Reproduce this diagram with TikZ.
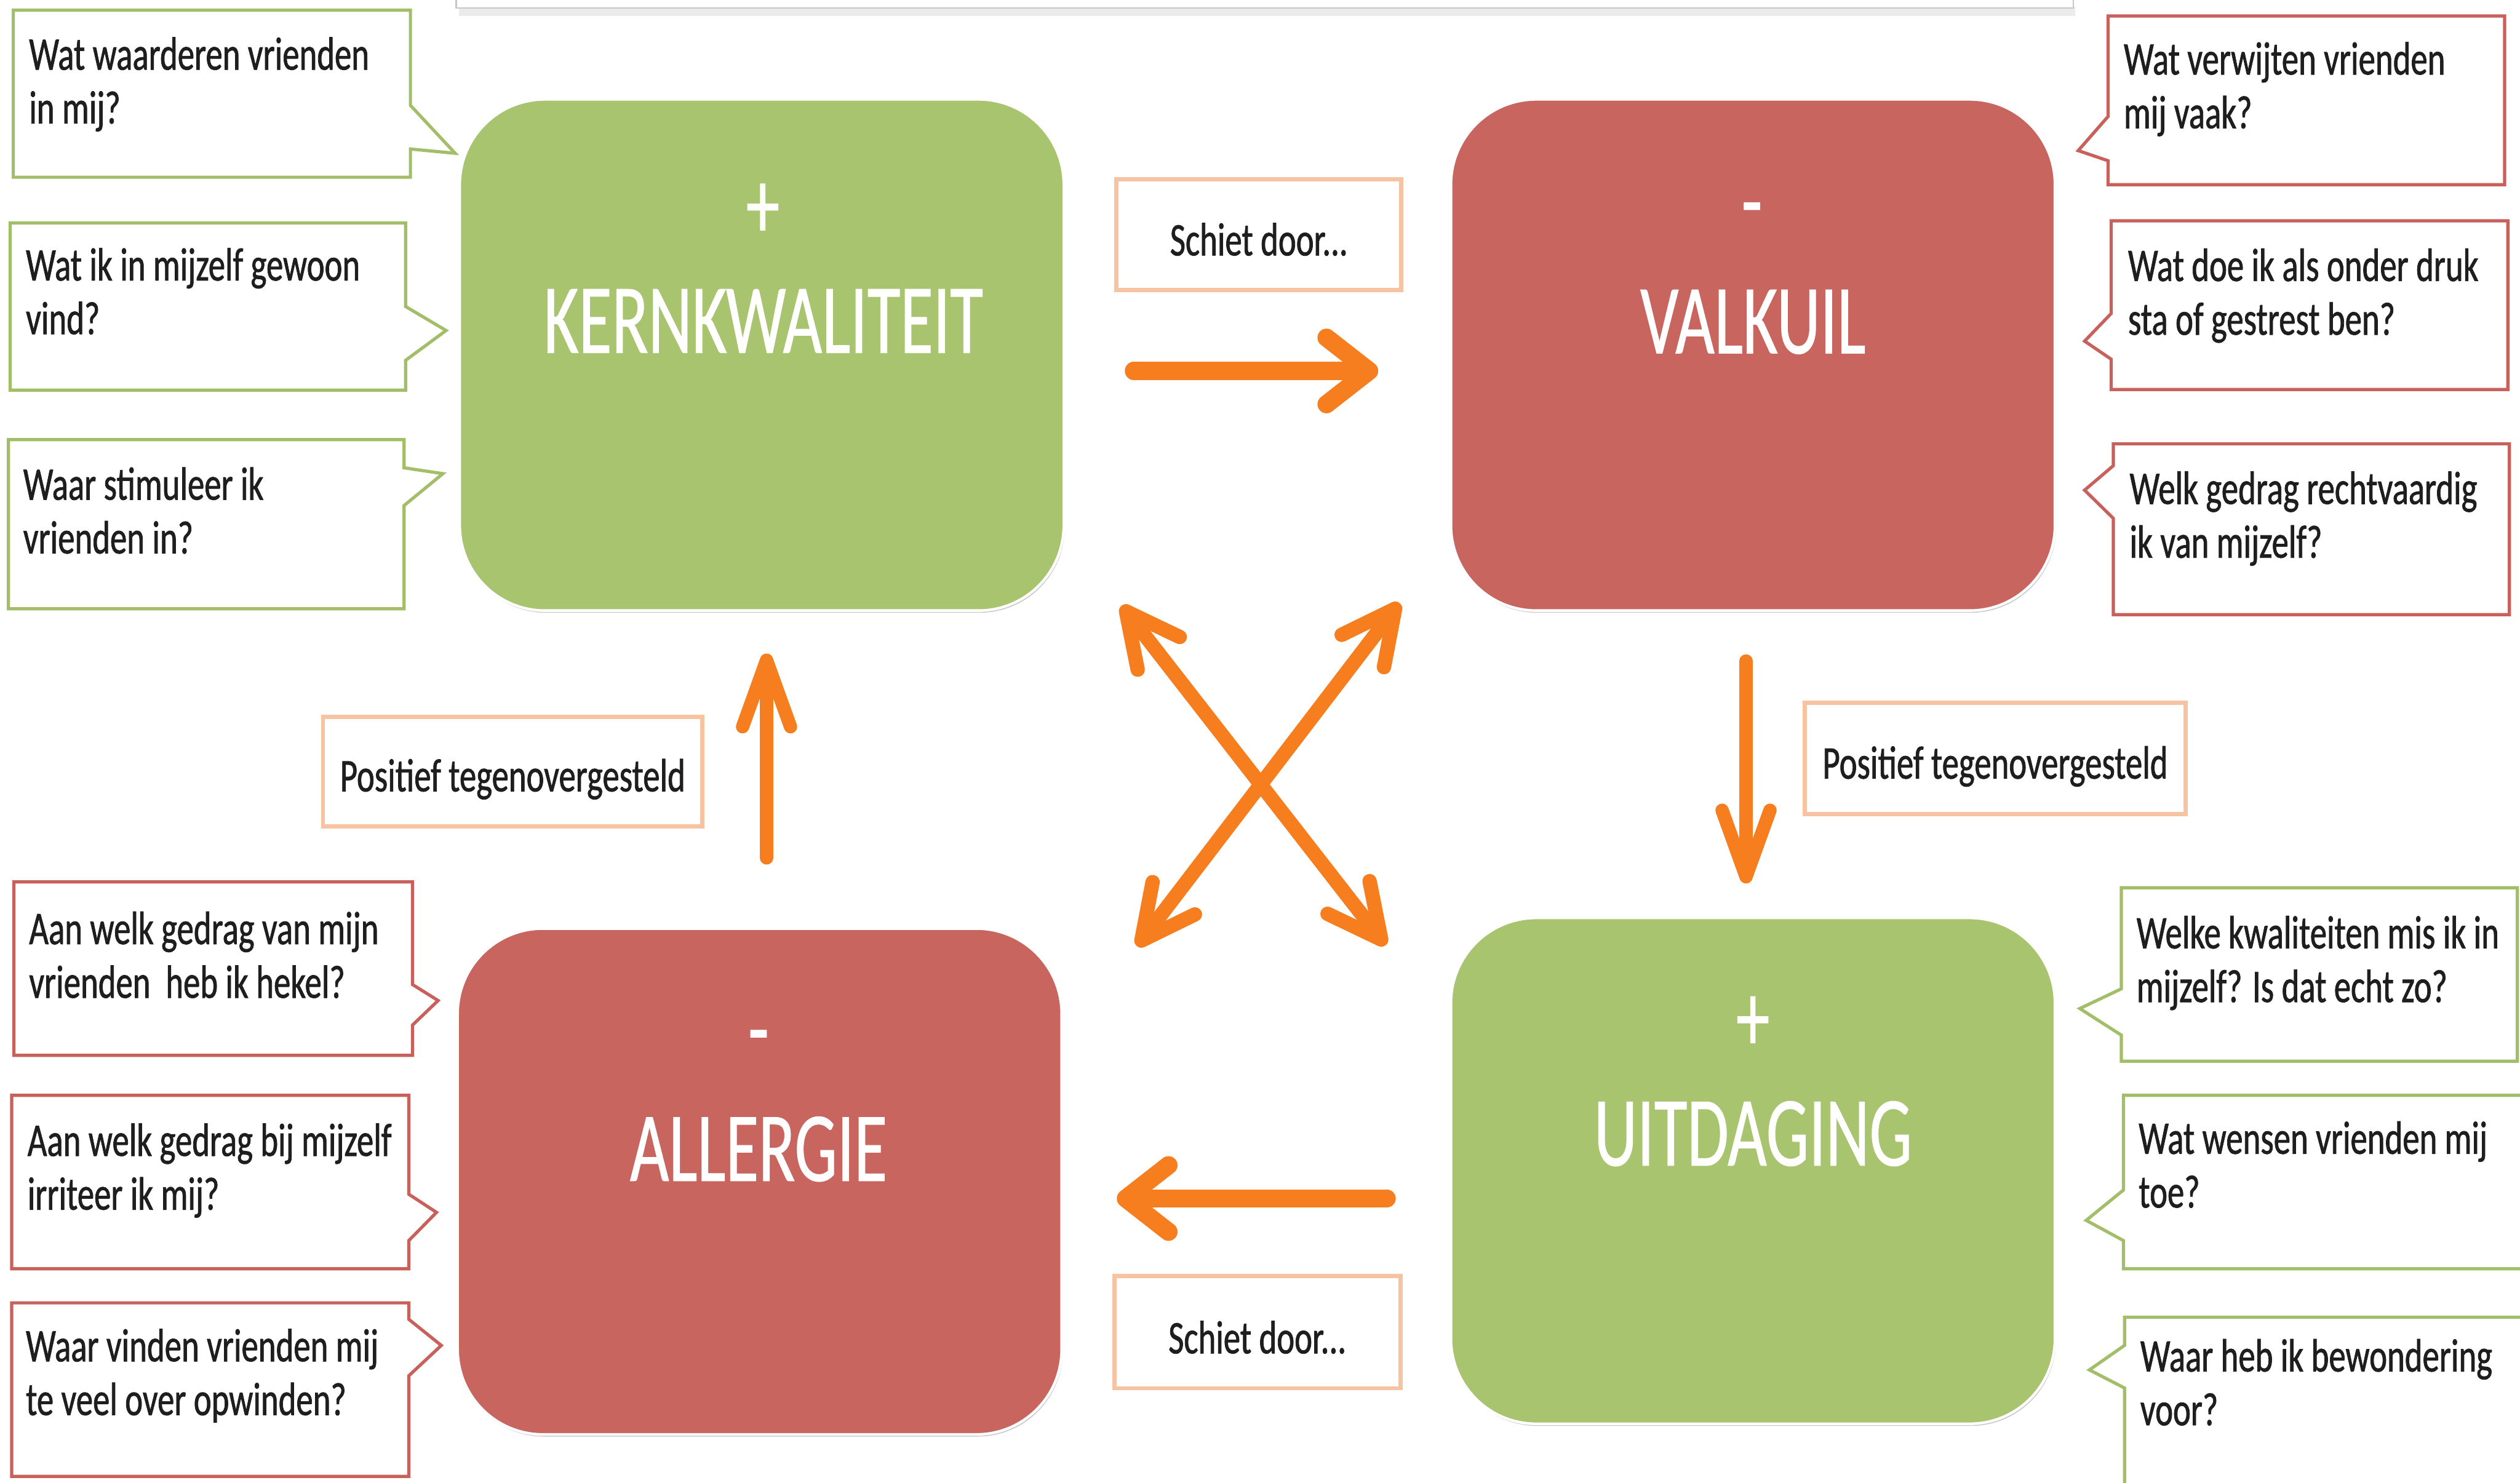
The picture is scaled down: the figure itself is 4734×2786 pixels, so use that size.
\documentclass[tikz,border=0pt]{standalone}
\usepackage{fontspec}
\setmainfont{Carlito}[FakeStretch=0.72,FakeBold=1]
\newfontfamily\titlefont{Carlito}[FakeStretch=0.68,FakeBold=0.6]
\usetikzlibrary{arrows.meta,shadows}
\definecolor{boxgreen}{RGB}{169,196,111}
\definecolor{boxred}{RGB}{201,101,95}
\definecolor{cgreen}{RGB}{163,190,104}
\definecolor{cred}{RGB}{200,96,92}
\definecolor{orangeC}{RGB}{246,126,31}
\definecolor{peach}{RGB}{246,196,163}
\definecolor{textc}{RGB}{30,30,30}
\begin{document}
\begin{tikzpicture}[x=0.01cm,y=-0.01cm,
  mainbox/.style={rectangle, rounded corners=1.6cm, minimum width=11.34cm, minimum height=9.6cm,
    draw=white, line width=0.05cm, inner sep=0pt,
    drop shadow={shadow xshift=0.02cm, shadow yshift=-0.04cm, opacity=0.22, fill=black}},
  sign/.style={anchor=base, text=white, inner sep=0pt, font=\titlefont\fontsize{53}{60}\selectfont},
  callgreen/.style={draw=cgreen, line width=0.06cm, fill=white},
  callred/.style={draw=cred, line width=0.06cm, fill=white},
  qtext/.style={anchor=base west, inner sep=0pt, text=textc, font=\fontsize{25}{28.7}\selectfont},
  lbox/.style={rectangle, draw=peach, line width=0.08cm, fill=white, inner sep=0pt},
  ltext/.style={anchor=base, inner sep=0pt, text=textc, font=\fontsize{25}{30}\selectfont},
  harrow/.style={draw=orangeC, line width=0.34cm, line cap=round,
    -{Straight Barb[round,length=0.8cm,width=1.25cm]}},
  varrow/.style={draw=orangeC, line width=0.25cm, line cap=round,
    -{Straight Barb[round,length=1.25cm,width=0.9cm]}},
  darrow/.style={draw=orangeC, line width=0.27cm, line cap=round,
    {Straight Barb[round,length=1cm,width=1cm]}-{Straight Barb[round,length=1cm,width=1cm]}}
]
\useasboundingbox (0,0) rectangle (4734,2786);
\fill[white] (0,0) rectangle (4734,2786);

% top box (partly visible)
\fill[black!8] (862,12) rectangle (3898,30);
\draw[draw=black!22, line width=0.03cm, fill=white] (857,-60) rectangle (3895,15);

% main boxes
\node[mainbox, fill=boxgreen] (kern) at (1431,667) {};
\node[mainbox, fill=boxred] (valk) at (3293,667) {};
\node[mainbox, fill=boxred, minimum height=9.5cm] (allg) at (1427,2220) {};
\node[mainbox, fill=boxgreen, minimum height=9.5cm] (uitd) at (3293,2200) {};

\node[sign] (kernsign) at (1433,448) {+};
\node[sign] (kerntitle) at (1434,663) {KERNKWALITEIT};
\node[sign] (valksign) at (3291,440) {-};
\node[sign] (valktitle) at (3293,664) {VALKUIL};
\node[sign] (allgsign) at (1425,1995) {-};
\node[sign] (allgtitle) at (1425,2219) {ALLERGIE};
\node[sign] (uitdsign) at (3293,1975) {+};
\node[sign] (uitdtitle) at (3293,2190) {UITDAGING};

% callouts left top (green)
\draw[callgreen] (25,19) -- (771,19) -- (771,198) -- (855,288) -- (771,280) -- (771,333) -- (25,333) -- cycle;
\draw[callgreen] (19,419) -- (762,419) -- (762,576) -- (838,621) -- (762,677) -- (762,733) -- (19,733) -- cycle;
\draw[callgreen] (16,826) -- (759,826) -- (759,879) -- (832,890) -- (759,950) -- (759,1144) -- (16,1144) -- cycle;
\node[qtext] (q1) at (54,131) {\parbox[t]{8cm}{\raggedright Wat waarderen vrienden\\in mij?}};
\node[qtext] (q2) at (48,527) {\parbox[t]{8cm}{\raggedright Wat ik in mijzelf gewoon\\vind?}};
\node[qtext] (q3) at (43,939) {\parbox[t]{8cm}{\raggedright Waar stimuleer ik\\vrienden in?}};

% callouts right top (red)
\draw[callred] (3960,30) -- (4705,30) -- (4705,347) -- (3960,347) -- (3960,302) -- (3904,283) -- (3960,219) -- cycle;
\draw[callred] (3966,415) -- (4711,415) -- (4711,732) -- (3966,732) -- (3966,675) -- (3916,641) -- (3966,589) -- cycle;
\draw[callred] (3970,834) -- (4714,834) -- (4714,1155) -- (3970,1155) -- (3970,974) -- (3916,921) -- (3970,875) -- cycle;
\node[qtext] (q4) at (3989,140) {\parbox[t]{8cm}{\raggedright Wat verwijten vrienden\\mij vaak?}};
\node[qtext] (q5) at (3997,528) {\parbox[t]{8cm}{\raggedright Wat doe ik als onder druk\\sta of gestrest ben?}};
\node[qtext] (q6) at (4000,947) {\parbox[t]{8cm}{\raggedright Welk gedrag rechtvaardig\\ik van mijzelf?}};

% callouts left bottom (red)
\draw[callred] (26,1657) -- (775,1657) -- (775,1850) -- (823,1880) -- (775,1926) -- (775,1983) -- (26,1983) -- cycle;
\draw[callred] (22,2058) -- (768,2058) -- (768,2244) -- (820,2278) -- (768,2331) -- (768,2384) -- (22,2384) -- cycle;
\draw[callred] (22,2448) -- (768,2448) -- (768,2479) -- (829,2528) -- (768,2585) -- (768,2774) -- (22,2774) -- cycle;
\node[qtext] (q7) at (54,1774) {\parbox[t]{8cm}{\raggedright Aan welk gedrag van mijn\\vrienden\ \ heb ik hekel?}};
\node[qtext] (q8) at (51,2172) {\parbox[t]{8cm}{\raggedright Aan welk gedrag bij mijzelf\\irriteer ik mij?}};
\node[qtext] (q9) at (48,2558) {\parbox[t]{8cm}{\raggedright Waar vinden vrienden mij\\te veel over opwinden?}};

% callouts right bottom (green)
\draw[callgreen] (3985,1668) -- (4729,1668) -- (4729,1994) -- (3985,1994) -- (3985,1945) -- (3907,1895) -- (3985,1858) -- cycle;
\draw[callgreen] (3989,2058) -- (4760,2058) -- (4760,2384) -- (3989,2384) -- (3989,2331) -- (3919,2293) -- (3989,2236) -- cycle;
\draw[callgreen] (3991,2475) -- (4760,2475) -- (4760,2820) -- (3991,2820) -- (3991,2608) -- (3925,2574) -- (3991,2528) -- cycle;
\node[qtext] (q10) at (4013,1782) {\parbox[t]{8cm}{\raggedright Welke kwaliteiten mis ik in\\mijzelf? Is dat echt zo?}};
\node[qtext] (q11) at (4017,2168) {\parbox[t]{8cm}{\raggedright Wat wensen vrienden mij\\toe?}};
\node[qtext] (q12) at (4020,2577) {\parbox[t]{8cm}{\raggedright Waar heb ik bewondering\\voor?}};

% label boxes
\node[lbox, minimum width=5.35cm, minimum height=2.07cm] (sd1) at (2365,441) {};
\node[ltext] (sd1t) at (2365,480) {Schiet door...};
\node[lbox, minimum width=5.37cm, minimum height=2.11cm] (sd2) at (2362,2503) {};
\node[ltext] (sd2t) at (2362,2543) {Schiet door...};
\node[lbox, minimum width=7.12cm, minimum height=2.06cm] (pt1) at (963,1450) {};
\node[ltext] (pt1t) at (963,1487) {Positief tegenovergesteld};
\node[lbox, minimum width=7.15cm, minimum height=2.1cm] (pt2) at (3748,1425) {};
\node[ltext] (pt2t) at (3748,1463) {Positief tegenovergesteld};

% arrows
\coordinate (h1s) at (2130,697);
\coordinate (h1e) at (2589,697);
\coordinate (h2s) at (2605,2252);
\coordinate (h2e) at (2098,2252);
\coordinate (v1s) at (1440,1612);
\coordinate (v1e) at (1440,1228);
\coordinate (v2s) at (3280,1242);
\coordinate (v2e) at (3280,1660);
\coordinate (d1a) at (2107,1138);
\coordinate (d1b) at (2603,1776);
\coordinate (d2a) at (2136,1778);
\coordinate (d2b) at (2629,1133);
\draw[harrow] (h1s) -- (h1e);
\draw[harrow] (h2s) -- (h2e);
\draw[varrow] (v1s) -- (v1e);
\draw[varrow] (v2s) -- (v2e);
\draw[darrow] (d1a) -- (d1b);
\draw[darrow] (d2a) -- (d2b);
\end{tikzpicture}
\end{document}
